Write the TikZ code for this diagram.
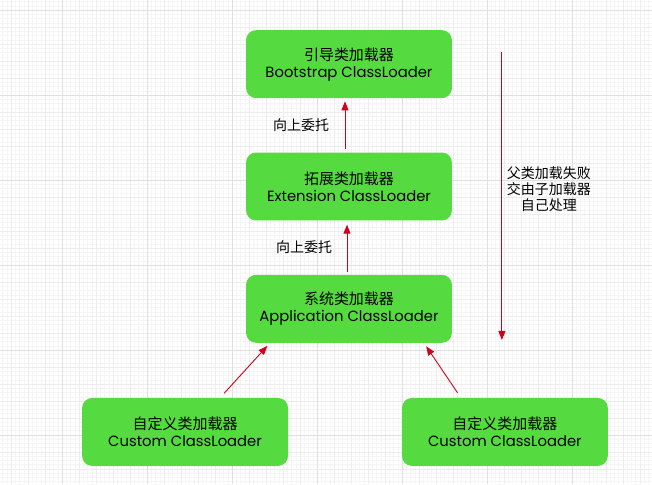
\documentclass[tikz,border=0pt]{standalone}
\usepackage{fontspec}
\setmainfont{Poppins}
\newfontfamily\cjk{Noto Sans CJK SC}
\usetikzlibrary{arrows.meta,positioning}
\definecolor{LoaderGreen}{HTML}{55DB3F}
\definecolor{DelegRed}{HTML}{D0021B}
\definecolor{GridFine}{HTML}{F5F5F5}
\definecolor{GridMinor}{HTML}{EDEDED}
\definecolor{GridMajor}{HTML}{E0E0E0}
\newcommand{\zh}[1]{{\cjk\fontsize{15}{17}\selectfont #1}}

\begin{document}
\begin{tikzpicture}[
  x=1pt,y=1pt,
  node distance=54pt,
  every node/.style={align=center},
  loader/.style={fill=LoaderGreen,rounded corners=10pt,minimum width=206pt,minimum height=68pt,
    inner sep=0pt,font=\fontsize{14.8}{17}\selectfont},
  note/.style={font=\cjk\fontsize{14}{16}\selectfont},
  arr/.style={-{Triangle[length=9pt,width=7pt]},draw=DelegRed,line width=0.9pt}
]
% background grid
\fill[white] (0,0) rectangle (652,484);
\draw[GridFine,step=4.25pt,xshift=2.5pt,yshift=6.5pt] (-2.5,-6.5) grid (649.5,477.5);
\draw[GridMinor,step=17pt,xshift=11pt,yshift=15pt] (-11,-15) grid (641,469);
\draw[GridMajor,step=85pt,xshift=62pt,yshift=49pt] (-62,-49) grid (590,435);
\useasboundingbox (0,0) rectangle (652,484);

\node[loader] (boot) at (349,420) {\zh{引导类加载器}\\Bootstrap ClassLoader};
\node[loader,below=of boot] (ext) {\zh{拓展类加载器}\\Extension ClassLoader};
\node[loader,below=of ext] (app) {\zh{系统类加载器}\\Application ClassLoader};
\node[loader] (cusl) at (185,52) {\zh{自定义类加载器}\\Custom ClassLoader};
\node[loader] (cusr) at (505,52) {\zh{自定义类加载器}\\Custom ClassLoader};

\draw[arr,shorten <=3pt,shorten >=3pt] ([xshift=-4pt]ext.north) -- ([xshift=-4pt]boot.south);
\draw[arr,shorten <=3pt,shorten >=4pt] ([xshift=-2pt]app.north) -- ([xshift=-2pt]ext.south);
\draw[arr,shorten <=6pt,shorten >=4pt] ([xshift=35pt]cusl.north) -- ([xshift=-79pt]app.south);
\draw[arr,shorten <=6pt,shorten >=4pt] ([xshift=-44pt]cusr.north) -- ([xshift=75pt]app.south);

\node[note] (up1) at (301,359) {向上委托};
\node[note] (up2) at (304,237) {向上委托};

% failure falls back down
\coordinate (failtop) at (502,432);
\coordinate (failbot) at (502,144);
\draw[arr] (failtop) -- (failbot);
\node[note] (fail) at (549,295) {父类加载失败\\交由子加载器\\自己处理};
\end{tikzpicture}
\end{document}
